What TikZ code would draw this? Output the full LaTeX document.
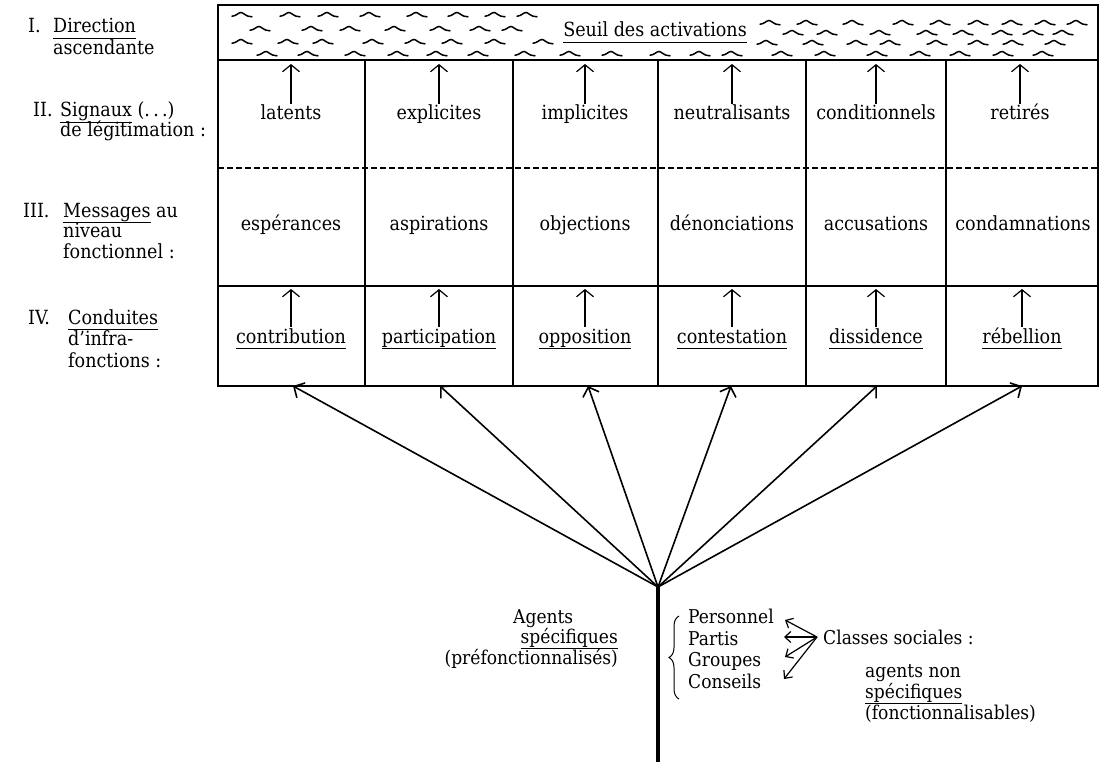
\documentclass[tikz,border=0pt]{standalone}
\usepackage{fontspec}
\setmainfont{DejaVu Serif Condensed}
\usetikzlibrary{arrows.meta,decorations.pathreplacing}
% underline set at a fixed depth below the baseline
\newcommand{\ulw}[1]{\setbox0=\hbox{#1}\rlap{\rule[-6pt]{\wd0}{1.3pt}}\box0\relax}
\begin{document}
\begin{tikzpicture}[x=1pt,y=-1pt,
  lbl/.style={font=\fontsize{19.5}{23}\selectfont, inner sep=0pt, anchor=base west},
  cell/.style={font=\fontsize{19.5}{23}\selectfont, anchor=base, inner sep=2pt, text height=14pt, text depth=4pt},
  sml/.style={font=\fontsize{19}{22}\selectfont, inner sep=0pt, anchor=base west},
  frame/.style={line width=1.6pt},
  gridline/.style={line width=1.3pt},
  upar/.style={line width=1.2pt, -{Straight Barb[length=7pt,width=17pt]}},
  fan/.style={line width=1.6pt, -{Straight Barb[length=8pt,width=17pt]}},
  smallar/.style={line width=1.2pt, -{Straight Barb[length=6pt,width=11pt]}},
  wave/.style={line width=1.5pt, line cap=round},
  wv/.pic={\draw[wave] (-10,1.2) .. controls (-6,1.2) and (-3.5,-2.5) .. (-1,-2.5) .. controls (1.5,-2.5) and (3.5,1.8) .. (10,1.8);}
]
\useasboundingbox (0,0) rectangle (1110,765);
\fill[white] (0,0) rectangle (1110,765);

% ---- table ----
\draw[frame] (218,5) rectangle (1098,386);
\draw[gridline] (218,60) -- (1098,60);
\draw[gridline, dash pattern=on 6pt off 3pt] (218,168) -- (1098,168);
\draw[gridline] (218,286) -- (1098,286);
\foreach \x in {365,513,658,806,946} \draw[gridline] (\x,60) -- (\x,386);

% ---- activation threshold band ----
\foreach \x in {242,290,328,370,417,458,495,527} \pic at (\x,15) {wv};
\foreach \x in {260,312,350,395,440,480,512} \pic at (\x,29) {wv};
\foreach \x in {242,288,323,373,415,452,495,543} \pic at (\x,42) {wv};
\foreach \x in {267,308,355,398,437,478,525,570,612,660,700,732,782,825,877,920,960,1003,1043} \pic at (\x,54) {wv};
\foreach \x in {770,807,853,903,940,978,1012,1045,1077} \pic at (\x,23) {wv};
\foreach \x in {793,827,880,927,963,1002,1033,1063} \pic at (\x,33) {wv};
\foreach \x in {767,813,857,890,937,978,1013,1055} \pic at (\x,43) {wv};
\node[lbl, anchor=base] (seuil) at (655,37) {\ulw{Seuil des activations}};

% ---- row II: signals ----
\foreach \x/\n/\t in {291/1/latents, 439/2/explicites, 585/3/implicites, 732/4/neutralisants, 876/5/conditionnels, 1020/6/retirés}{
  \node[cell] (s\n) at (\x,120) {\t};
  \coordinate (t\n) at (\x,64);
  \draw[upar] (s\n.north) -- (t\n);
}

% ---- row III: messages ----
\foreach \x/\n/\t in {291/1/espérances, 439/2/aspirations, 585/3/objections, 732/4/dénonciations, 876/5/accusations, 1023/6/condamnations}
  \node[cell] (m\n) at (\x,230) {\t};

% ---- row IV: conducts ----
\foreach \x/\n/\t in {291/1/contribution, 439/2/participation, 585/3/opposition, 732/4/contestation, 876/5/dissidence, 1022/6/rébellion}{
  \node[cell] (c\n) at (\x,343) {\ulw{\t}};
  \coordinate (u\n) at (\x,289);
  \draw[upar] (c\n.north) -- (u\n);
}

% ---- level labels ----
\node[lbl] (n1) at (28,33) {I.};
\node[lbl] (l1a) at (53,33) {\ulw{Direction}};
\node[lbl] (l1b) at (53,55) {ascendante};
\node[lbl] (n2) at (33,117) {II.};
\node[lbl] (l2a) at (60,117) {\ulw{Signaux} (.\,.\,.)};
\node[lbl] (l2b) at (60,136) {de légitimation :};
\node[lbl] (n3) at (23,217) {III.};
\node[lbl] (l3a) at (63,217) {\ulw{Messages} au};
\node[lbl] (l3b) at (63,237) {niveau};
\node[lbl] (l3c) at (63,258) {fonctionnel :};
\node[lbl] (n4) at (28,324) {IV.};
\node[lbl] (l4a) at (68,324) {\ulw{Conduites}};
\node[lbl] (l4b) at (68,345) {d'infra-};
\node[lbl] (l4c) at (68,367) {fonctions :};

% ---- fan of agents ----
\coordinate (root) at (658,587);
\coordinate (stemend) at (658,762);
\draw[line width=4.5pt] (root) -- (stemend);
\foreach \x/\n in {293/1, 440/2, 588/3, 731/4, 877/5, 1022/6}{
  \coordinate (f\n) at (\x,386);
  \draw[fan] (root) -- (f\n);
}

% ---- specific agents ----
\node[sml] (ag1) at (513,623) {Agents};
\node[sml, anchor=base east] (ag2) at (618,643) {\ulw{spécifiques}};
\node[sml, anchor=base east] (ag3) at (618,664) {(préfonctionnalisés)};

\draw[line width=1pt, decorate, decoration={brace, amplitude=10pt}] (679,699) -- (679,616);
\node[sml] (per) at (688,623) {Personnel};
\node[sml] (par) at (688,645) {Partis};
\node[sml] (gro) at (688,666) {Groupes};
\node[sml] (con) at (688,688) {Conseils};

% ---- non-specific agents ----
\node[sml] (cls) at (823,644) {Classes sociales :};
\coordinate (cso) at (817,637);
\coordinate (aPer) at (785,620);
\coordinate (aPar) at (784,637);
\coordinate (aGro) at (785,657);
\coordinate (aCon) at (784,679);
\foreach \t in {aPer,aPar,aGro,aCon} \draw[smallar] (cso) -- (\t);
\node[sml] (ns1) at (865,677) {agents non};
\node[sml] (ns2) at (865,698) {\ulw{spécifiques}};
\node[sml] (ns3) at (865,719) {(fonctionnalisables)};
\end{tikzpicture}
\end{document}
